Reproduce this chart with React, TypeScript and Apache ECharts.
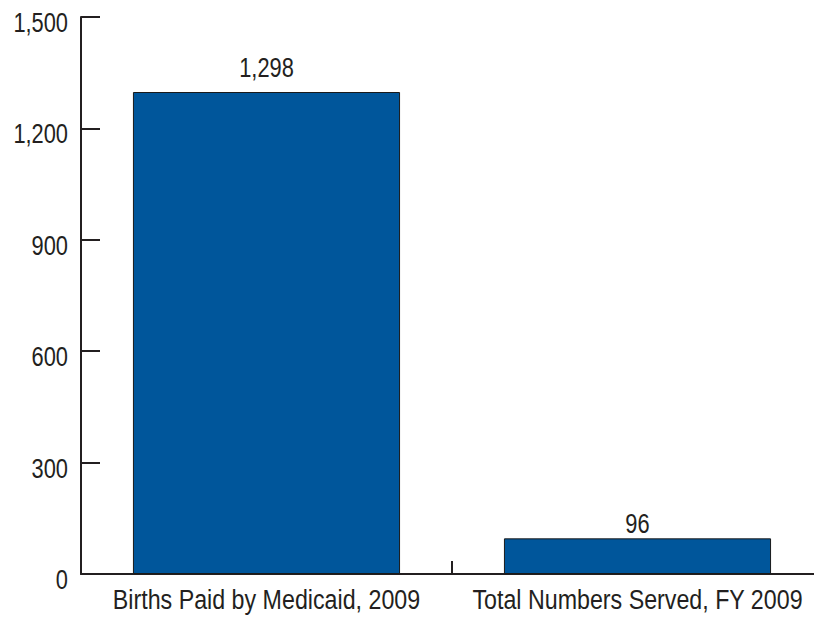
import React, { useEffect, useRef } from "react";
import * as echarts from "echarts";

const categories = ["Births Paid by Medicaid, 2009", "Total Numbers Served, FY 2009"];
const values = [1298, 96];
const yMin = 0;
const yMax = 1500;
const yInterval = 300;
const yTicks = [0, 300, 600, 900, 1200, 1500];

const FONT = "'Liberation Sans', Arial, sans-serif";
const TEXT = "#231f20";
const FONT_SIZE = 28;
const NUM_SCALE = 0.78;
const CAT_SCALE = 0.83;
const valueLabelLift = [25, 15];

const fmt = (v: number) => v.toLocaleString("en-US");

export default function App() {
  const ref = useRef<HTMLDivElement>(null);
  useEffect(() => {
    if (!ref.current) return;
    const chart = echarts.init(ref.current, null, { renderer: "svg" });
    const gridLeft = 81;
    chart.setOption({
      animation: false,
      backgroundColor: "#ffffff",
      grid: { left: gridLeft, right: 7, top: 17, bottom: 45, containLabel: false },
      xAxis: {
        type: "category",
        data: categories,
        axisLine: { lineStyle: { color: TEXT, width: 2 } },
        axisTick: { show: true, inside: true, interval: 0, length: 13, lineStyle: { color: TEXT, width: 2 } },
        axisLabel: { show: false, interval: 0 },
      },
      yAxis: {
        type: "value",
        min: yMin,
        max: yMax,
        interval: yInterval,
        splitLine: { show: false },
        axisLine: { show: true, lineStyle: { color: TEXT, width: 2 } },
        axisTick: { show: true, inside: true, length: 19, lineStyle: { color: TEXT, width: 2 } },
        axisLabel: { show: false },
      },
      series: [
        {
          type: "bar",
          data: values,
          barWidth: "72%",
          itemStyle: { color: "#00569b", borderColor: "#1a1a1a", borderWidth: 1 },
          label: { show: false },
        },
      ],
    });

    const texts: any[] = [];
    const zeroY = chart.convertToPixel({ yAxisIndex: 0 }, 0) as number;
    yTicks.forEach((t) => {
      const py = chart.convertToPixel({ yAxisIndex: 0 }, t) as number;
      texts.push({
        type: "text",
        x: gridLeft - 13,
        y: py + 5,
        scaleX: NUM_SCALE,
        style: { text: fmt(t), fill: TEXT, font: `${FONT_SIZE}px ${FONT}`, align: "right", verticalAlign: "middle" },
      });
    });
    categories.forEach((c, i) => {
      const px = chart.convertToPixel({ xAxisIndex: 0 }, c) as number;
      texts.push({
        type: "text",
        x: px,
        y: zeroY + 25,
        scaleX: CAT_SCALE,
        style: { text: c, fill: TEXT, font: `${FONT_SIZE}px ${FONT}`, align: "center", verticalAlign: "middle" },
      });
      const top = chart.convertToPixel({ yAxisIndex: 0 }, values[i]) as number;
      texts.push({
        type: "text",
        x: px,
        y: top - valueLabelLift[i],
        scaleX: NUM_SCALE,
        style: { text: fmt(values[i]), fill: TEXT, font: `${FONT_SIZE}px ${FONT}`, align: "center", verticalAlign: "middle" },
      });
    });
    chart.setOption({ graphic: texts });
    return () => chart.dispose();
  }, []);
  return (
    <div style={{ position: "fixed", left: 0, top: 0, width: 814, height: 619, overflow: "hidden" }}>
      <div ref={ref} style={{ width: 830, height: 619 }} />
    </div>
  );
}
